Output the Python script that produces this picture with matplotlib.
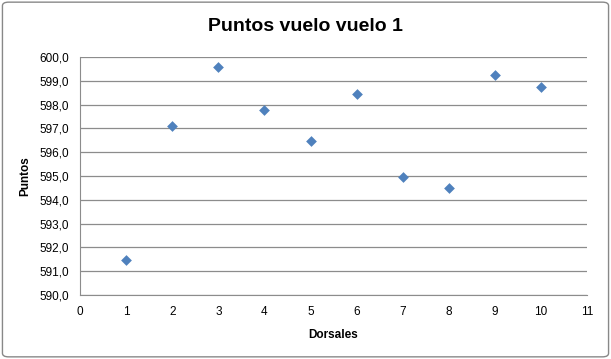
import matplotlib.pyplot as plt
from matplotlib.patches import FancyBboxPatch

dorsales = [1, 2, 3, 4, 5, 6, 7, 8, 9, 10]
puntos = [591.47, 597.12, 599.57, 597.77, 596.47, 598.45, 594.96, 594.50, 599.24, 598.74]

plt.rcParams['font.family'] = ['Liberation Sans', 'DejaVu Sans']

fig = plt.figure(figsize=(6.11, 3.59), dpi=100)
fig.patch.set_facecolor('white')
border = FancyBboxPatch((0.004, 0.006), 0.992, 0.988, boxstyle="round,pad=0,rounding_size=0.01",
                        transform=fig.transFigure, fill=False, edgecolor='#888888', linewidth=1)
fig.patches.append(border)

ax1 = fig.add_axes([0.131, 0.178, 0.830, 0.663])
ax1.scatter(dorsales, puntos, marker='D', s=30, c='#4F81BD', zorder=3, linewidths=0)

ax1.set_xlim(0, 11)
ax1.set_ylim(590, 600)
ax1.set_xticks(range(0, 12))
ax1.set_yticks(range(590, 601))
ax1.set_yticklabels([f"{v},0" for v in range(590, 601)])
ax1.grid(axis='y', color='#8c8c8c', linewidth=0.9)
ax1.set_axisbelow(True)
for s in ['top', 'right']:
    ax1.spines[s].set_visible(False)
for s in ['left', 'bottom']:
    ax1.spines[s].set_color('#8c8c8c')
ax1.tick_params(axis='both', labelsize=8.5, length=0, pad=8)

ax1.set_xlabel('Dorsales', fontsize=8.5, fontweight='bold', labelpad=8)
ax1.set_ylabel('Puntos', fontsize=8.5, fontweight='bold', labelpad=6)
fig.text(0.5, 0.925, 'Puntos vuelo vuelo 1', ha='center', va='center', fontsize=14, fontweight='bold')

fig.savefig('out.png', dpi=100)
